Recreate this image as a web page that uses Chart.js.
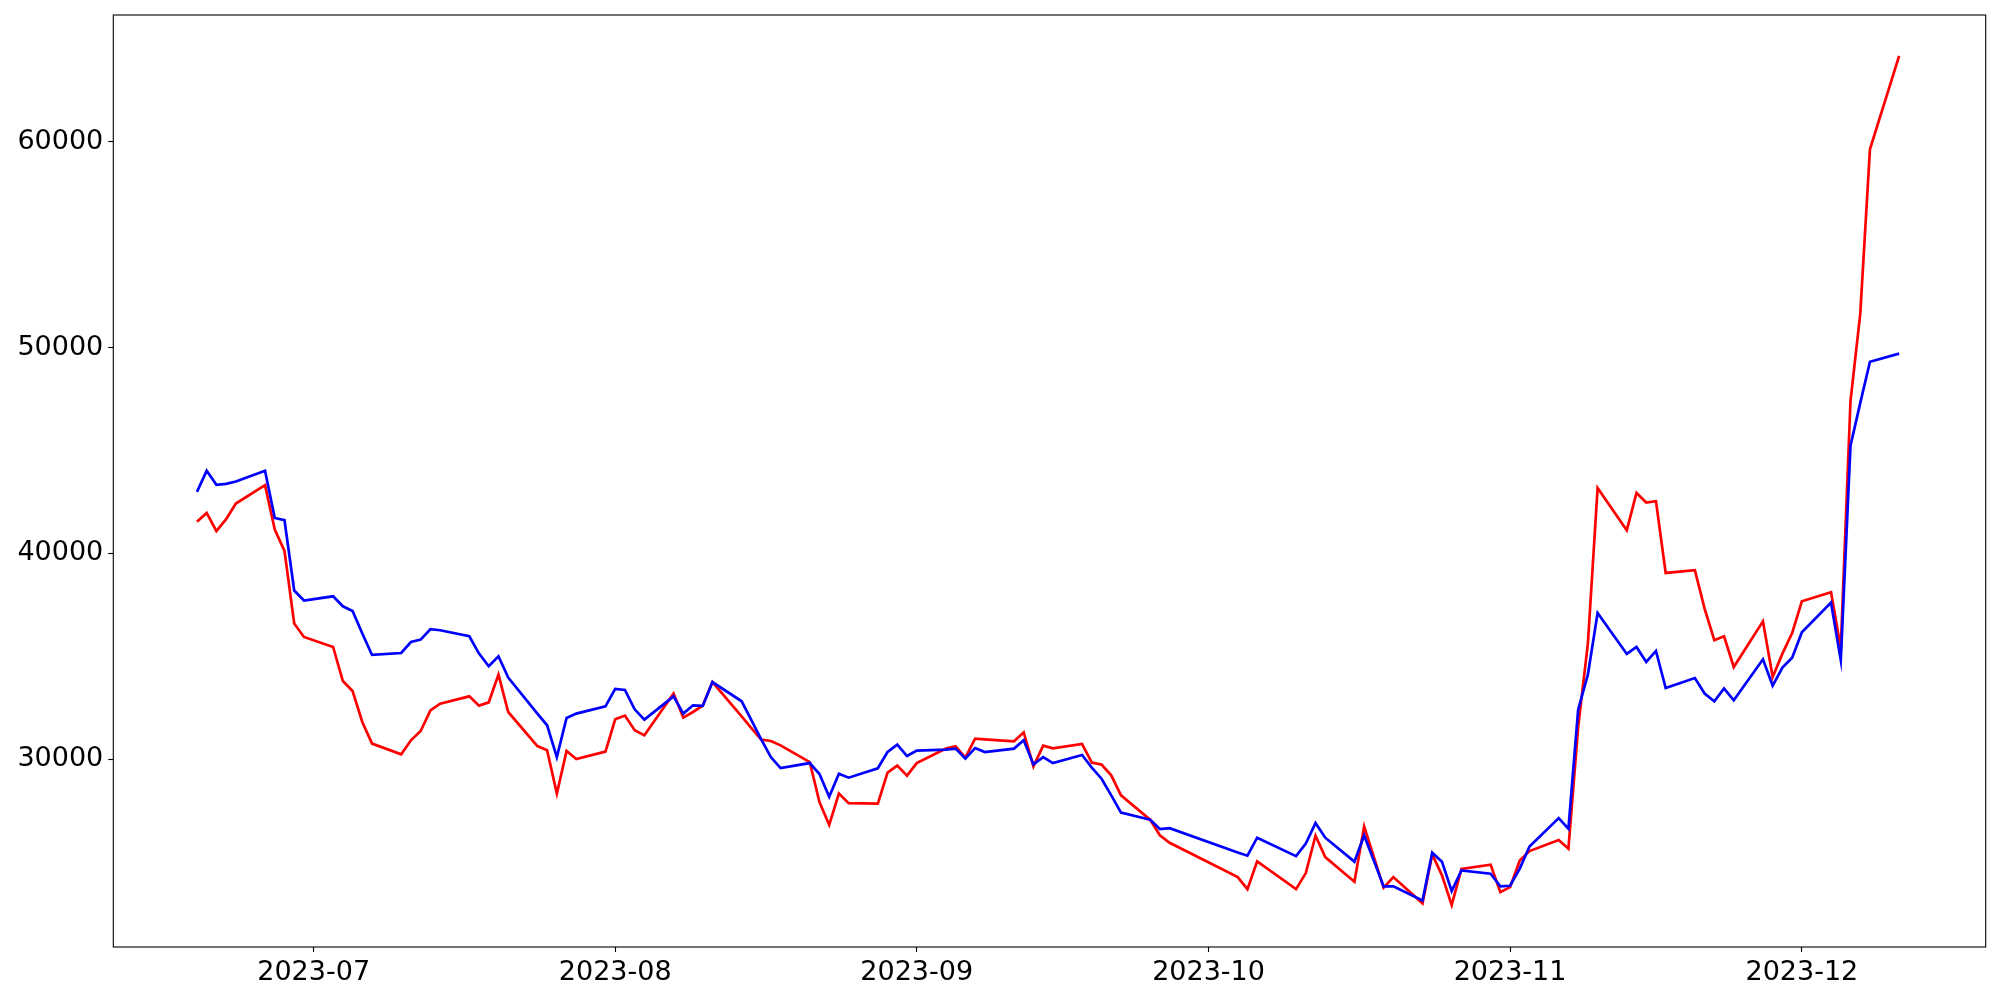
<!DOCTYPE html>
<html>
<head>
<meta charset="utf-8">
<script src="https://cdn.jsdelivr.net/npm/chart.js@4.4.1/dist/chart.umd.min.js"></script>
<style>
  html, body { margin: 0; padding: 0; background: #fff; }
  #wrap { width: 2000px; height: 1000px; }
</style>
</head>
<body>
<div id="wrap"><canvas id="lines" width="2000" height="1000"></canvas></div>
<script>
// trading days
const dates = [
  '2023-06-19','2023-06-20','2023-06-21','2023-06-22','2023-06-23',
  '2023-06-26','2023-06-27','2023-06-28','2023-06-29','2023-06-30',
  '2023-07-03','2023-07-04','2023-07-05','2023-07-06','2023-07-07',
  '2023-07-10','2023-07-11','2023-07-12','2023-07-13','2023-07-14',
  '2023-07-17','2023-07-18','2023-07-19','2023-07-20','2023-07-21',
  '2023-07-24','2023-07-25','2023-07-26','2023-07-27','2023-07-28',
  '2023-07-31','2023-08-01','2023-08-02','2023-08-03','2023-08-04',
  '2023-08-07','2023-08-08','2023-08-09','2023-08-10','2023-08-11',
  '2023-08-14','2023-08-15','2023-08-16','2023-08-17','2023-08-18',
  '2023-08-21','2023-08-22','2023-08-23','2023-08-24','2023-08-25',
  '2023-08-28','2023-08-29','2023-08-30','2023-08-31','2023-09-01',
  '2023-09-04','2023-09-05','2023-09-06','2023-09-07','2023-09-08',
  '2023-09-11','2023-09-12','2023-09-13','2023-09-14','2023-09-15',
  '2023-09-18','2023-09-19','2023-09-20','2023-09-21','2023-09-22',
  '2023-09-25','2023-09-26','2023-09-27',
  '2023-10-04','2023-10-05','2023-10-06',
  '2023-10-10','2023-10-11','2023-10-12','2023-10-13',
  '2023-10-16','2023-10-17','2023-10-18','2023-10-19','2023-10-20',
  '2023-10-23','2023-10-24','2023-10-25','2023-10-26','2023-10-27',
  '2023-10-30','2023-10-31','2023-11-01','2023-11-02','2023-11-03',
  '2023-11-06','2023-11-07','2023-11-08','2023-11-09','2023-11-10',
  '2023-11-13','2023-11-14','2023-11-15','2023-11-16','2023-11-17',
  '2023-11-20','2023-11-21','2023-11-22','2023-11-23','2023-11-24',
  '2023-11-27','2023-11-28','2023-11-29','2023-11-30','2023-12-01',
  '2023-12-04','2023-12-05','2023-12-06','2023-12-07','2023-12-08',
  '2023-12-11'
];

const redValues = [
  41530, 41965, 41080, 41660, 42420,
  43310, 41160, 40120, 36590, 35940,
  35455, 33800, 33315, 31810, 30760,
  30240, 30920, 31370, 32375, 32700,
  33055, 32605, 32765, 34110, 32295,
  30640, 30435, 28330, 30400, 30010,
  30370, 31940, 32120, 31405, 31160,
  33190, 32020, 32295, 32605, 33750,
  32085, 31515, 30955, 30885, 30675,
  29865, 27920, 26810, 28330, 27870,
  27840, 29350, 29690, 29205, 29815,
  30515, 30625, 30080, 31000, 30965,
  30870, 31305, 29655, 30660, 30530,
  30740, 29835, 29740, 29220, 28245,
  27065, 26300, 25945,
  24275, 23690, 25040,
  23690, 24470, 26285, 25245,
  24050, 26740, 25245, 23760, 24275,
  23000, 25380, 24360, 22915, 24670,
  24880, 23545, 23790, 25085, 25540,
  26075, 25655, 31565, 35620, 43180,
  41125, 42935, 42470, 42535, 39050,
  39180, 37320, 35780, 35975, 34480,
  36700, 33995, 35130, 36130, 37670,
  38110, 35390, 47405, 51620, 59625,
  64160
];

const blueValues = [
  42990, 44010, 43330, 43375, 43490,
  44010, 41720, 41610, 38195, 37710,
  37915, 37430, 37200, 36105, 35065,
  35160, 35695, 35810, 36315, 36265,
  35975, 35130, 34515, 35000, 33965,
  32215, 31650, 30105, 32005, 32215,
  32570, 33415, 33365, 32425, 31925,
  33055, 32215, 32620, 32590, 33750,
  32815, 31905, 30980, 30105, 29570,
  29815, 29280, 28180, 29300, 29105,
  29560, 30350, 30710, 30155, 30420,
  30465, 30515, 30030, 30545, 30350,
  30515, 30920, 29750, 30105, 29815,
  30205, 29590, 29055, 28245, 27405,
  27065, 26610, 26655,
  25475, 25315, 26190,
  25295, 25900, 26900, 26190,
  25025, 26300, 25070, 23825, 23825,
  23140, 25460, 25025, 23600, 24600,
  24440, 23825, 23855, 24685, 25765,
  27140, 26625, 32410, 34110, 37105,
  35115, 35455, 34725, 35260, 33460,
  33945, 33190, 32815, 33445, 32865,
  34855, 33575, 34450, 34930, 36170,
  37605, 34820, 45235, 47300, 49305,
  49700
];

const monthTicks = ['2023-07-01','2023-08-01','2023-09-01','2023-10-01','2023-11-01','2023-12-01'];
const monthLabels = ['2023-07','2023-08','2023-09','2023-10','2023-11','2023-12'];
const yTicks = [30000, 40000, 50000, 60000];

// days counted from 2023-07-01, so the x axis can stay linear
function dayNum(s) {
  var p = s.split('-');
  return (Date.UTC(+p[0], +p[1] - 1, +p[2]) - Date.UTC(2023, 6, 1)) / 86400000;
}

var redPoints = dates.map(function(d, i) { return { x: dayNum(d), y: redValues[i] }; });
var bluePoints = dates.map(function(d, i) { return { x: dayNum(d), y: blueValues[i] }; });

var tickFont = { family: 'DejaVu Sans', size: 27 };

// matplotlib style box round the plot
var frame = {
  id: 'frame',
  afterDraw: function(chart) {
    var a = chart.chartArea, ctx = chart.ctx;
    ctx.save();
    ctx.strokeStyle = '#000';
    ctx.lineWidth = 1.1;
    ctx.strokeRect(a.left, a.top, a.right - a.left, a.bottom - a.top);
    ctx.restore();
  }
};

new Chart(document.getElementById('lines'), {
  type: 'line',
  data: {
    datasets: [
      { label: 'blue', data: bluePoints, borderColor: '#0000ff', borderWidth: 2.7, pointRadius: 0, tension: 0, fill: false },
      { label: 'red', data: redPoints, borderColor: '#ff0000', borderWidth: 2.7, pointRadius: 0, tension: 0, fill: false }
    ]
  },
  options: {
    responsive: false,
    animation: false,
    events: [],
    layout: { padding: { left: 0, right: 14.3, top: 15, bottom: 0 } },
    scales: {
      x: {
        type: 'linear',
        min: -20.6,
        max: 171.9,
        afterBuildTicks: function(scale) {
          scale.ticks = monthTicks.map(function(m) { return { value: dayNum(m) }; });
        },
        afterFit: function(scale) {
          scale.height = 53;
          scale.paddingLeft = 0;
          scale.paddingRight = 0;
        },
        ticks: {
          autoSkip: false,
          maxRotation: 0,
          padding: 5,
          color: '#000',
          font: tickFont,
          callback: function(value, index) { return monthLabels[index]; }
        },
        grid: { display: true, drawOnChartArea: false, drawTicks: true, tickLength: 5, tickWidth: 1.1, color: '#000' },
        border: { display: false }
      },
      y: {
        type: 'linear',
        min: 20880,
        max: 66150,
        afterBuildTicks: function(scale) {
          scale.ticks = yTicks.map(function(v) { return { value: v }; });
        },
        afterFit: function(scale) {
          scale.width = 113.3;
          scale.paddingTop = 0;
          scale.paddingBottom = 0;
        },
        ticks: {
          padding: 5,
          color: '#000',
          font: tickFont,
          callback: function(value) { return String(value); }
        },
        grid: { display: true, drawOnChartArea: false, drawTicks: true, tickLength: 5, tickWidth: 1.1, color: '#000' },
        border: { display: false }
      }
    },
    plugins: {
      legend: { display: false },
      tooltip: { enabled: false }
    }
  },
  plugins: [frame]
});
</script>
</body>
</html>
